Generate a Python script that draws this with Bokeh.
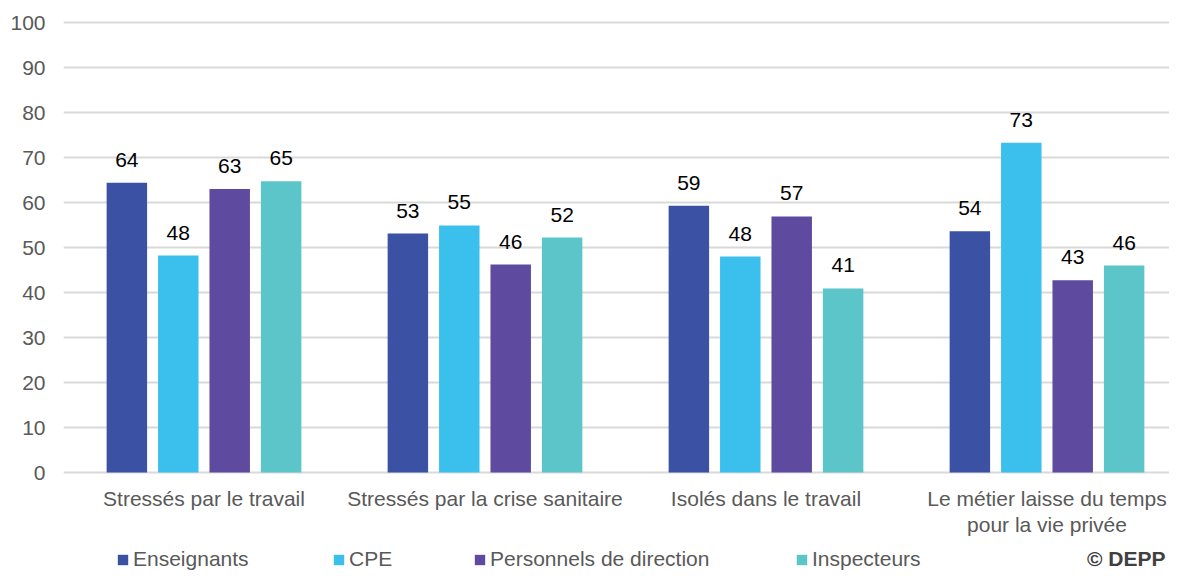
import numpy as np
from bokeh.plotting import figure
from bokeh.models import Range1d, FixedTicker, Legend, LegendItem, Label
from bokeh.core.properties import value
from bokeh.embed import file_html
from bokeh.resources import INLINE

categories = ["Stressés par le travail", "Stressés par la crise sanitaire",
              "Isolés dans le travail", "Le métier laisse du temps\npour la vie privée"]
series = ["Enseignants", "CPE", "Personnels de direction", "Inspecteurs"]
enseignants = [64.4, 53.1, 59.3, 53.6]
cpe = [48.2, 54.9, 48.0, 73.3]
direction = [63.0, 46.2, 56.9, 42.7]
inspecteurs = [64.7, 52.2, 40.9, 46.0]
colors = ["#3B51A3", "#3BC0EE", "#5E4A9E", "#5BC5CA"]
y_ticks = [0, 10, 20, 30, 40, 50, 60, 70, 80, 90, 100]

FONT = "Liberation Sans"
FS = "21px"
GREY = "#595959"
data = [enseignants, cpe, direction, inspecteurs]

W, H = 1169, 572
LEFT, TOP = 63, 20
PX_PER_UNIT = 4.5
GROUP_PX = 281.0
y_end = 100 + (22 - TOP) / PX_PER_UNIT
y_start = y_end - (H - TOP) / PX_PER_UNIT
x_end = (W - LEFT) / GROUP_PX

p = figure(width=W, height=H, output_backend="svg", toolbar_location=None,
           x_axis_location=None,
           x_range=Range1d(0, x_end), y_range=Range1d(y_start, y_end),
           min_border_left=LEFT, min_border_right=0, min_border_top=TOP, min_border_bottom=0)
p.outline_line_color = None
p.background_fill_color = "white"
p.border_fill_color = "white"

p.xgrid.grid_line_color = None
p.ygrid.ticker = FixedTicker(ticks=y_ticks)
p.ygrid.grid_line_color = "#D9D9D9"
p.ygrid.grid_line_width = 2

centers = np.arange(len(categories)) + 0.5
step = 0.183
renderers = []
for i, (name, vals, col) in enumerate(zip(series, data, colors)):
    xs = centers + (i - 1.5) * step
    r = p.vbar(x=xs, top=vals, width=0.144, fill_color=col, line_color=None)
    renderers.append(r)
    p.text(x=xs, y=vals, text=[str(int(round(v))) for v in vals],
           text_align="center", text_baseline="middle", y_offset=-23,
           text_font=value(FONT), text_font_size=FS, text_color="#000000")

# category labels under the bars
p.text(x=centers, y=[0] * len(centers), text=categories,
       text_align="center", text_baseline="top", y_offset=14,
       text_font=value(FONT), text_font_size=FS, text_color=GREY,
       text_line_height=1.15)

p.yaxis.ticker = FixedTicker(ticks=y_ticks)
p.yaxis.axis_line_color = None
p.yaxis.major_tick_line_color = None
p.yaxis.minor_tick_line_color = None
p.yaxis.major_label_text_font = FONT
p.yaxis.major_label_text_font_size = FS
p.yaxis.major_label_text_color = GREY
p.yaxis.major_label_standoff = 12

# legends: one item each, at its own position
leg_x = [53, 269, 410, 732]
for r, name, lx in zip(renderers, series, leg_x):
    leg = Legend(items=[LegendItem(label=name, renderers=[r])], location=(lx, 1),
                 orientation="horizontal", border_line_color=None,
                 background_fill_alpha=0, padding=0, margin=0, spacing=0,
                 glyph_width=13, glyph_height=13, label_standoff=4,
                 label_text_font=FONT, label_text_font_size=FS,
                 label_text_color=GREY, label_height=22)
    p.add_layout(leg, "center")

p.add_layout(Label(x=x_end, y=y_start, x_offset=-4, y_offset=3, text="© DEPP",
                   text_align="right", text_baseline="bottom",
                   text_font=FONT, text_font_size=FS, text_font_style="bold",
                   text_color="#404040"))

open("out.html", "w").write(file_html(p, INLINE))
